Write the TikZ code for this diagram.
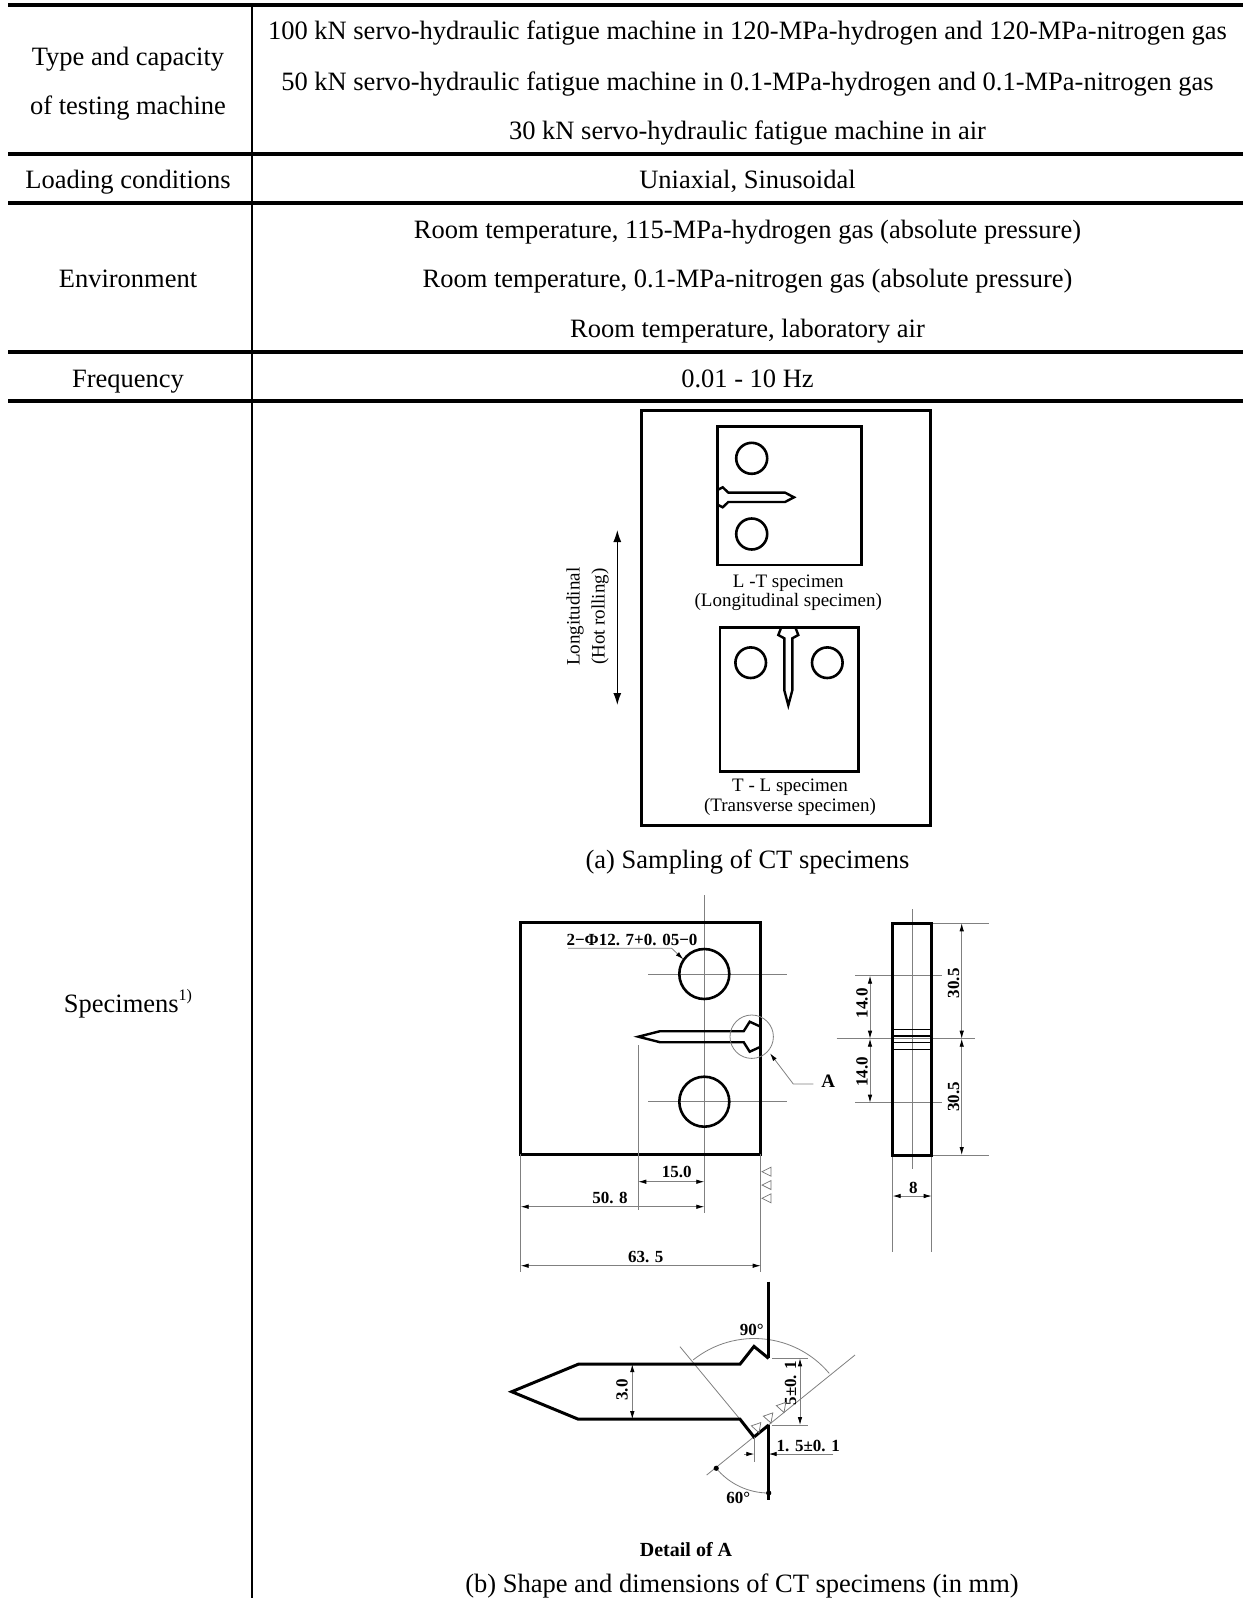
\documentclass[tikz,border=0pt]{standalone}
\usepackage{fontspec}
\setmainfont{Liberation Serif}
\usetikzlibrary{arrows.meta,calc}
\tikzset{
  pics/notch/.style n args={7}{code={%
    \draw[line join=miter] (0,-#2) -- (-#4,-#3) -- (-#5,-#1) -- (-#6,-#1) -- (-#7,0) -- (-#6,#1) -- (-#5,#1) -- (-#4,#3) -- (0,#2);}},
}
\begin{document}
\begin{tikzpicture}[x=1pt,y=-1pt,
  hrule/.style={line width=3.5pt},
  vrule/.style={line width=2.2pt},
  tt/.style={font=\fontsize{26.5}{30}\selectfont, inner sep=0pt, text height=18pt, text depth=5.5pt},
  lab/.style={font=\fontsize{19}{21}\selectfont, inner sep=0pt},
  dimlab/.style={font=\bfseries\fontsize{17}{19}\selectfont, inner sep=0pt},
  thickbox/.style={line width=3pt},
  specbox/.style={line width=2.6pt},
  gl/.style={draw=black!50, line width=0.8pt},
  dimline/.style={gl, {Latex[length=8pt,width=4.5pt,color=black]}-{Latex[length=8pt,width=4.5pt,color=black]}},
  onearrow/.style={gl, -{Latex[length=8pt,width=4.5pt,color=black]}},
  tri/.style={draw=black!55, line width=0.7pt},
]
\useasboundingbox (0,0) rectangle (1243,1598);
\fill[white] (0,0) rectangle (1243,1598);

% ---------- table rules ----------
\draw[hrule] (8,5) -- (1243,5);
\draw[hrule] (8,154) -- (1243,154);
\draw[hrule] (8,203) -- (1243,203);
\draw[hrule] (8,352) -- (1243,352);
\draw[hrule] (8,401) -- (1243,401);
\draw[vrule] (252,5) -- (252,1598);

% ---------- table text ----------
\node[tt] (l1a) at (128,59) {Type and capacity};
\node[tt] (l1b) at (128,108) {of testing machine};
\node[tt] (m1) at (747.5,33.5) {100 kN servo-hydraulic fatigue machine in 120-MPa-hydrogen and 120-MPa-nitrogen gas};
\node[tt] (m2) at (747.5,84) {50 kN servo-hydraulic fatigue machine in 0.1-MPa-hydrogen and 0.1-MPa-nitrogen gas};
\node[tt] (m3) at (747.5,133) {30 kN servo-hydraulic fatigue machine in air};
\node[tt] (l2) at (128,182.5) {Loading conditions};
\node[tt] (m4) at (747.5,182.5) {Uniaxial, Sinusoidal};
\node[tt] (l3) at (128,281) {Environment};
\node[tt] (m5) at (747.5,232.5) {Room temperature, 115-MPa-hydrogen gas (absolute pressure)};
\node[tt] (m6) at (747.5,281) {Room temperature, 0.1-MPa-nitrogen gas (absolute pressure)};
\node[tt] (m7) at (747.5,331) {Room temperature, laboratory air};
\node[tt] (l4) at (128,381) {Frequency};
\node[tt] (m8) at (747.5,381) {0.01 - 10 Hz};
\node[tt] (l5) at (128,1006) {Specimens\raisebox{0.45em}{\fontsize{16}{18}\selectfont 1)}};

% ---------- (a) sampling ----------
\draw[thickbox] (641.7,410) rectangle (930,825);
\draw[specbox] (717.3,426.7) rectangle (861.7,565);
\draw[specbox] (751.7,458.3) circle[radius=15.5pt];
\draw[specbox] (751.7,534) circle[radius=15.5pt];
\pic[line width=2.4pt, xscale=-1] (nlt) at (717.3,497.3) {notch={4.7}{7.3}{10}{5.4}{11}{67.7}{76.7}};
\node[lab] (lt1) at (788.3,583) {L -T specimen};
\node[lab] (lt2) at (788.3,602) {(Longitudinal specimen)};

\draw[specbox] (720,627.3) rectangle (858.3,771.7);
\draw[specbox] (750.7,662.7) circle[radius=15.3pt];
\draw[specbox] (827.3,662.7) circle[radius=15.3pt];
\pic[line width=2.4pt, rotate=90] (ntl) at (788.3,627.3) {notch={4}{7}{10}{7.7}{11}{63}{78}};
\node[lab] (tl1) at (790,787) {T - L specimen};
\node[lab] (tl2) at (790,806.5) {(Transverse specimen)};

\coordinate (la) at (617.3,530);
\coordinate (lb) at (617.3,705);
\draw[line width=1.2pt, {Latex[length=12pt,width=8pt]}-{Latex[length=12pt,width=8pt]}] (la) -- (lb);
\node[lab, rotate=90] (lo1) at (575,616.7) {Longitudinal};
\node[lab, rotate=90] (lo2) at (600,616.7) {(Hot rolling)};

\node[tt] (capa) at (747.5,862) {(a) Sampling of CT specimens};

% ---------- (b) CT specimen front view ----------
\draw[gl] (704.3,895) -- (704.3,1213);
\draw[gl] (648,974) -- (787,974);
\draw[gl] (648,1101.7) -- (787,1101.7);
\draw[thickbox] (520.7,922.3) rectangle (760.7,1154);
\draw[specbox] (704.3,974) circle[radius=25pt];
\draw[specbox] (704.3,1101.7) circle[radius=25pt];
\pic[line width=2.4pt] (nct) at (760.7,1036.7) {notch={5.5}{10}{15}{11}{17}{100.7}{122.4}};

% extension lines
\draw[gl] (520.7,1154) -- (520.7,1272);
\draw[gl] (760.7,1154) -- (760.7,1272);
\draw[gl] (638.3,1045) -- (638.3,1210);
% dims
\coordinate (d15a) at (638.3,1181.7); \coordinate (d15b) at (704.3,1181.7);
\draw[dimline] (d15a) -- (d15b);
\node[dimlab] (t15) at (676.7,1172) {15.0};
\coordinate (d50a) at (520.7,1206.7); \coordinate (d50b) at (704.3,1206.7);
\draw[dimline] (d50a) -- (d50b);
\node[dimlab] (t50) at (610,1198.3) {50. 8};
\coordinate (d63a) at (520.7,1265.7); \coordinate (d63b) at (760.7,1265.7);
\draw[dimline] (d63a) -- (d63b);
\node[dimlab] (t63) at (645.7,1257.3) {63. 5};
% roughness triangles
\foreach \yy in {1171.7,1185,1198.3}{
  \draw[tri] (762,\yy) -- (771,\yy-4.5) -- (771,\yy+4.5) -- cycle;}
% hole label
\node[dimlab] (phi) at (632,940) {2−Φ12. 7+0. 05−0};
\coordinate (p1) at (568,948.3); \coordinate (p2) at (671.7,948.3); \coordinate (p3) at (683.3,959.3);
\draw[onearrow] (p1) -- (p2) -- (p3);
% detail circle A
\draw[gl] (751.7,1036.7) circle[radius=21.7pt];
\coordinate (a1) at (813.3,1084); \coordinate (a2) at (793.3,1084); \coordinate (a3) at (770,1053.3);
\draw[onearrow] (a1) -- (a2) -- (a3);
\node[font=\bfseries\fontsize{19}{21}\selectfont, inner sep=0pt] (A) at (828.3,1081.7) {A};

% ---------- side view ----------
\draw[gl] (912.7,909.3) -- (912.7,1169.3);
\draw[gl] (836.7,1038.7) -- (975,1038.7);
\draw[gl] (855,975.7) -- (941.7,975.7);
\draw[gl] (855,1102.7) -- (941.7,1102.7);
\draw[gl] (931.7,923.3) -- (989.3,923.3);
\draw[gl] (931.7,1155) -- (989.3,1155);
\draw[gl] (892.7,1155) -- (892.7,1252);
\draw[gl] (931.7,1155) -- (931.7,1252);
\draw[thickbox] (892.7,923.3) rectangle (931.7,1155);
\foreach \yy in {1029.3,1036,1042.7,1049.3}{
  \draw[line width=1.5pt] (892.7,\yy) -- (931.7,\yy);}
\coordinate (s1) at (870,975.7); \coordinate (s2) at (870,1038.7); \coordinate (s3) at (870,1102.7);
\draw[dimline] (s1) -- (s2);
\draw[dimline] (s2) -- (s3);
\node[dimlab, rotate=90] (t14a) at (862,1003.3) {14.0};
\node[dimlab, rotate=90] (t14b) at (862,1071.7) {14.0};
\coordinate (r1) at (961.7,923.3); \coordinate (r2) at (961.7,1038.7); \coordinate (r3) at (961.7,1155);
\draw[dimline] (r1) -- (r2);
\draw[dimline] (r2) -- (r3);
\node[dimlab, rotate=90] (t30a) at (953.5,983.3) {30.5};
\node[dimlab, rotate=90] (t30b) at (953.5,1096.7) {30.5};
\coordinate (e1) at (892.7,1196); \coordinate (e2) at (931.7,1196);
\draw[dimline] (e1) -- (e2);
\node[dimlab] (t8) at (913.3,1188.3) {8};

% ---------- Detail of A ----------
\draw[gl] (680,1346.7) -- (754.3,1436.5);
\draw[gl] (706.7,1475) -- (855,1355);
\coordinate (c90) at (754.3,1436.5);
\draw[gl] ($(c90)+(40.1:98pt)$) arc[start angle=40.1, end angle=128.6, radius=98pt];
\coordinate (c60) at (768.7,1425);
\draw[gl] ($(c60)+(219.5:68pt)$) arc[start angle=219.5, end angle=270, radius=68pt];
\fill ($(c60)+(219.5:68pt)$) circle[radius=2.6pt];
\fill ($(c60)+(270:68pt)$) circle[radius=2.6pt];
\draw[line width=3pt] (768.7,1281.7) -- (768.7,1358.3);
\draw[line width=3pt] (768.7,1425) -- (768.7,1500);
\pic[line width=3pt] (ndet) at (768.7,1391.7) {notch={27.5}{33.3}{45.3}{14.7}{28.7}{190.4}{257}};
% dim 3.0
\coordinate (w1) at (632.3,1364.2); \coordinate (w2) at (632.3,1419.2);
\draw[dimline] (w1) -- (w2);
\node[dimlab, rotate=90] (t3) at (622,1390) {3.0};
% dim 5
\draw[gl] (772,1358.3) -- (808.3,1358.3);
\draw[gl] (772,1425) -- (808.3,1425);
\coordinate (f1) at (800,1358.3); \coordinate (f2) at (800,1425);
\draw[dimline] (f1) -- (f2);
\node[dimlab, rotate=90] (t5) at (790.5,1383) {5±0. 1};
% dim 1.5
\draw[gl] (754.3,1436.5) -- (754.3,1462);
\coordinate (g0) at (744,1454); \coordinate (g1) at (754.3,1454);
\coordinate (g2) at (768.7,1454); \coordinate (g3) at (833.3,1454);
\draw[onearrow] (g0) -- (g1);
\draw[onearrow] (g3) -- (g2);
\node[dimlab] (t15b) at (808.3,1446) {1. 5±0. 1};
% angles
\node[dimlab] (t90) at (751.7,1330) {90°};
\node[dimlab] (t60) at (738.3,1498.3) {60°};
% roughness triangles along notch side
\foreach \px/\py in {759/1432.7,771/1423,784/1412.5}{
  \draw[tri, shift={(\px,\py)}, rotate=19] (0,0) -- (-5,-9) -- (5,-9) -- cycle;}

\node[font=\bfseries\fontsize{20}{22}\selectfont, inner sep=0pt] (detA) at (686,1550) {Detail of A};
\node[tt] (capb) at (742,1586) {(b) Shape and dimensions of CT specimens (in mm)};
\end{tikzpicture}
\end{document}
